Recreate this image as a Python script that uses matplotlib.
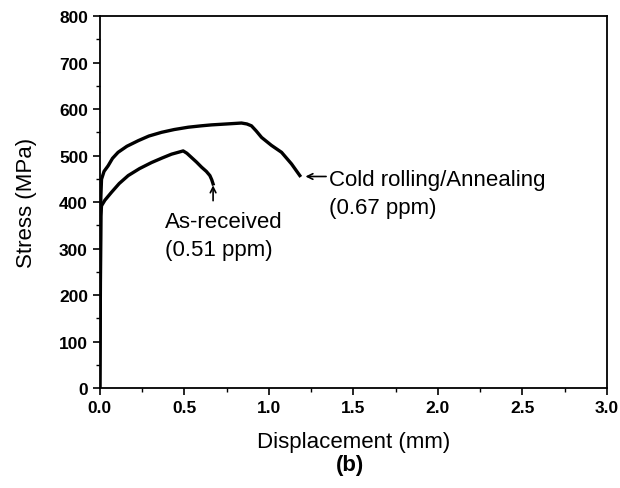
import matplotlib.pyplot as plt
from matplotlib.ticker import MultipleLocator

plt.rcParams["font.family"] = ["Liberation Sans", "DejaVu Sans"]

# Cold rolling / Annealing (0.67 ppm)
cr_disp = [0.0, 0.002, 0.004, 0.006, 0.01, 0.025, 0.049, 0.075, 0.108, 0.16,
           0.227, 0.29, 0.365, 0.44, 0.523, 0.60, 0.66, 0.75, 0.838, 0.87,
           0.897, 0.925, 0.957, 1.015, 1.075, 1.134, 1.183]
cr_stress = [0, 150, 300, 410, 449, 466, 478, 494, 507, 520,
             532, 542, 550, 556, 561, 564, 566, 568, 570, 568,
             564, 553, 539, 522, 507, 482, 457]

# As-received (0.51 ppm)
ar_disp = [0.0, 0.002, 0.004, 0.006, 0.01, 0.03, 0.069, 0.115, 0.168, 0.235,
           0.306, 0.37, 0.424, 0.493, 0.515, 0.542, 0.572, 0.602, 0.63, 0.651,
           0.662, 0.67]
ar_stress = [0, 120, 260, 370, 392, 404, 421, 440, 457, 472,
             485, 495, 503, 510, 505, 496, 486, 475, 466, 457,
             448, 439]


def main():
    fig = plt.figure(figsize=(6.2, 4.89), dpi=100)
    ax = fig.add_axes([0.161, 0.2045, 0.818, 0.7605])

    ax.plot(cr_disp, cr_stress, color="black", lw=2.4)
    ax.plot(ar_disp, ar_stress, color="black", lw=2.4)

    ax.set_xlim(0, 3.0)
    ax.set_ylim(0, 800)
    ax.xaxis.set_major_locator(MultipleLocator(0.5))
    ax.xaxis.set_minor_locator(MultipleLocator(0.25))
    ax.yaxis.set_major_locator(MultipleLocator(100))
    ax.yaxis.set_minor_locator(MultipleLocator(50))
    ax.set_xticklabels([f"{v:.1f}" for v in ax.get_xticks()])
    ax.tick_params(which="major", direction="out", length=5, width=1.2,
                   labelsize=12.5)
    ax.tick_params(which="minor", direction="out", length=3, width=1.0)
    for lbl in ax.get_xticklabels() + ax.get_yticklabels():
        lbl.set_fontweight("bold")
    for sp in ax.spines.values():
        sp.set_linewidth(1.3)

    ax.set_xlabel("Displacement (mm)", fontsize=16, labelpad=12)
    ax.set_ylabel("Stress (MPa)", fontsize=16, labelpad=16)
    fig.text(0.565, 0.048, "(b)", fontsize=16, fontweight="bold",
             ha="center", va="center")

    ax.annotate("", xy=(0.67, 442), xytext=(0.67, 397),
                arrowprops=dict(arrowstyle="->", color="black", lw=1.2))
    ax.text(0.385, 381, "As-received\n(0.51 ppm)", fontsize=16,
            ha="left", va="top", linespacing=1.45)

    ax.annotate("", xy=(1.2, 455), xytext=(1.355, 455),
                arrowprops=dict(arrowstyle="->", color="black", lw=1.2))
    ax.text(1.355, 472, "Cold rolling/Annealing\n(0.67 ppm)", fontsize=16,
            ha="left", va="top", linespacing=1.45)

    fig.savefig("out.png", dpi=100)


if __name__ == "__main__":
    main()
